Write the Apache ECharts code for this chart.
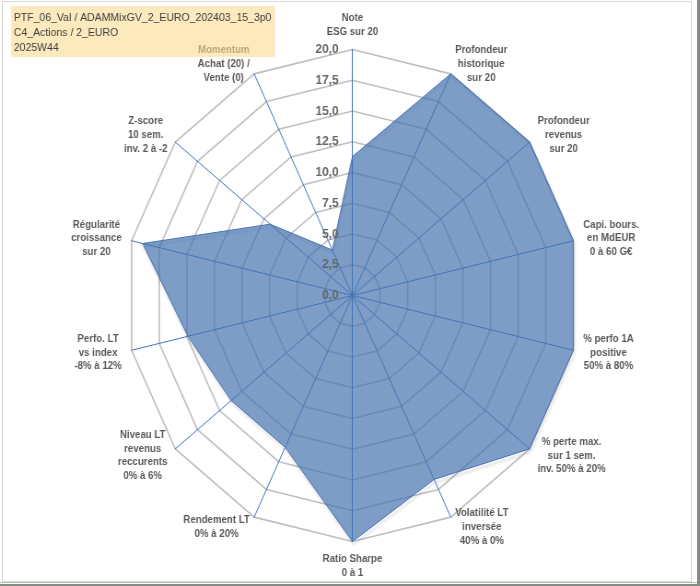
<!DOCTYPE html>
<html>
<head>
<meta charset="utf-8">
<script src="https://cdn.jsdelivr.net/npm/echarts@6/dist/echarts.min.js"></script>
<style>
  html, body { margin: 0; padding: 0; background: #fff; overflow: hidden; }
  #wrap { position: relative; width: 700px; height: 586px; overflow: hidden; }
  #chart { position: absolute; left: 0; top: 0; width: 760px; height: 586px; transform: scaleX(0.921); transform-origin: 0 0; }
  #frame { position: absolute; left: 2px; top: 1px; width: 688px; height: 579px; border: 1px solid #d9d9d9; pointer-events: none; }
  #edgeR { position: absolute; left: 697px; top: 0; width: 3px; height: 586px; background: #8a8a8a; }
  #edgeB1 { position: absolute; left: 0; top: 582px; width: 697px; height: 1px; background: #9fcf9f; }
  #edgeB2 { position: absolute; left: 0; top: 584px; width: 700px; height: 2px; background: #8a8a8a; }
</style>
</head>
<body>
<div id="wrap">
  <div id="chart"></div>
  <div id="frame"></div>
  <div id="edgeR"></div>
  <div id="edgeB1"></div>
  <div id="edgeB2"></div>
</div>
<script>
// critères, dans le sens horaire depuis le haut
var criteres = [
  'Note\nESG sur 20',
  'Profondeur\nhistorique\nsur 20',
  'Profondeur\nrevenus\nsur 20',
  'Capi. bours.\nen MdEUR\n0 à 60 G€',
  '% perfo 1A\npositive\n50% à 80%',
  '% perte max.\nsur 1 sem.\ninv. 50% à 20%',
  'Volatilité LT\ninversée\n40% à 0%',
  'Ratio Sharpe\n0 à 1',
  'Rendement LT\n0% à 20%',
  'Niveau LT\nrevenus\nreccurents\n0% à 6%',
  'Perfo. LT\nvs index\n-8% à 12%',
  'Régularité\ncroissance\nsur 20',
  'Z-score\n10 sem.\ninv. 2 à -2',
  'Momentum\nAchat (20) /\nVente (0)'
]
var notes = [11.3, 20, 20, 20, 20, 20, 16.6, 20, 13.7, 13.7, 14.9, 19.0, 9.3, 4.1]
var titre = ['PTF_06_Val / ADAMMixGV_2_EURO_202403_15_3p0', 'C4_Actions / 2_EURO', '2025W44']
var noteMin = 0
var noteMax = 20

// echarts tourne dans le sens anti-horaire : on remet l'ordre
var ordre = [0]
for (var i = criteres.length - 1; i > 0; i--) ordre.push(i)

function indicateurs(avecGraduation) {
  return ordre.map(function (k, j) {
    var ind = { name: criteres[k], min: noteMin, max: noteMax }
    if (j === 0 && avecGraduation) {
      ind.axisLabel = {
        show: true,
        margin: 15,
        fontSize: 13,
        fontWeight: 'bold',
        fontFamily: 'Liberation Sans',
        color: '#666666',
        formatter: function (v) { return v.toFixed(1).replace('.', ',') }
      }
    }
    return ind
  })
}
var valeurs = ordre.map(function (k) { return notes[k] })

var chart = echarts.init(document.getElementById('chart'))
chart.setOption({
  animation: false,
  title: {
    text: titre.join('\n'),
    left: 12,
    top: 6,
    padding: [4, 4, 2, 3],
    backgroundColor: 'rgba(250,219,145,0.6)',
    textStyle: {
      fontFamily: 'Liberation Sans',
      fontSize: 11.4,
      fontWeight: 'normal',
      color: '#404040',
      lineHeight: 15
    }
  },
  radar: [{
    z: 0,
    center: [382.7, 295.5],
    radius: 246,
    shape: 'polygon',
    splitNumber: 8,
    nameGap: 11,
    indicator: indicateurs(false),
    axisName: {
      color: '#595959',
      fontSize: 10.5,
      fontWeight: 'bold',
      fontFamily: 'Liberation Sans',
      lineHeight: 13.7,
      formatter: function (nom) {
        return nom.split('\n').map(function (l) { return '{c|' + l + '}' }).join('\n')
      },
      rich: {
        c: { align: 'center', color: '#595959', fontSize: 10.5, fontWeight: 'bold', fontFamily: 'Liberation Sans', lineHeight: 13.7 }
      }
    },
    axisLine: { lineStyle: { color: '#4472c4', width: 1 } },
    axisTick: { show: false },
    splitLine: { lineStyle: { color: '#bfbfbf', width: 1.6 } },
    splitArea: { show: false }
  }, {
    // graduations au-dessus de la surface
    z: 10,
    center: [382.7, 295.5],
    radius: 246,
    shape: 'polygon',
    splitNumber: 8,
    indicator: indicateurs(true),
    axisName: { show: false },
    axisLine: { show: false },
    axisTick: { show: false },
    splitLine: { show: false },
    splitArea: { show: false }
  }],
  series: [{
    type: 'radar',
    radarIndex: 0,
    z: 1,
    symbol: 'none',
    lineStyle: {
      color: '#4a74b8',
      width: 1,
      shadowColor: 'rgba(0,0,0,0.3)',
      shadowBlur: 3,
      shadowOffsetX: 1,
      shadowOffsetY: 3
    },
    areaStyle: { color: 'rgb(70,115,175)', opacity: 0.7 },
    data: [{ value: valeurs }]
  }]
})
</script>
</body>
</html>
